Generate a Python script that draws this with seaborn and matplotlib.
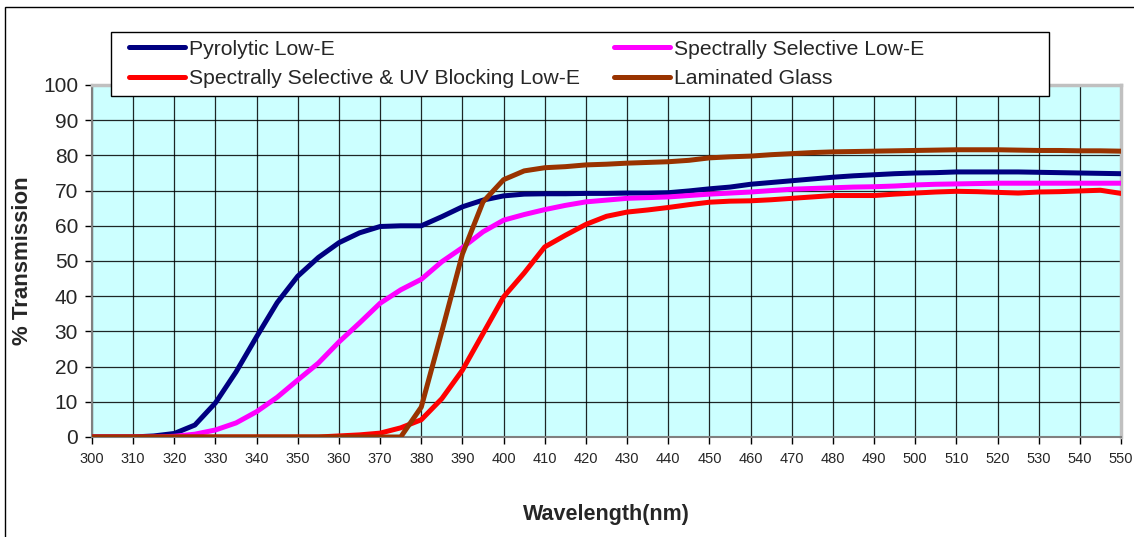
import numpy as np
import pandas as pd
import matplotlib
matplotlib.use("Agg")
import matplotlib.pyplot as plt
from matplotlib.patches import Rectangle
from matplotlib.lines import Line2D
import seaborn as sns

wavelength = list(range(300, 551, 5))

pyrolytic = [0, 0, 0, 0.3, 1.0, 3.4, 9.7, 18.5, 28.5, 38.2, 45.7, 51, 55.2, 58, 59.8, 60, 60,
             62.6, 65.4, 67.3, 68.5, 69, 69.1, 69.1, 69.2, 69.2, 69.3, 69.3, 69.4, 69.9, 70.5,
             71, 71.8, 72.3, 72.8, 73.3, 73.8, 74.2, 74.5, 74.8, 75, 75.1, 75.3, 75.3, 75.3,
             75.3, 75.2, 75.1, 75, 74.9, 74.8]
spectral = [0, 0, 0, 0, 0.2, 0.8, 2, 4, 7.2, 11.3, 16.2, 21, 27, 32.4, 38, 41.8, 44.8,
            49.8, 53.8, 58.3, 61.6, 63.2, 64.6, 65.8, 66.8, 67.3, 67.8, 68, 68.2, 68.6, 69,
            69.3, 69.6, 70, 70.4, 70.6, 70.8, 71, 71.1, 71.3, 71.6, 71.8, 71.9, 72, 72.1,
            72.1, 72.1, 72.1, 72.1, 72.1, 72.1]
spectral_uv = [0, 0, 0, 0, 0, 0, 0, 0, 0, 0, 0, 0, 0.3, 0.6, 1.1, 2.6, 4.9,
               10.9, 19, 29.4, 39.8, 46.6, 54, 57.3, 60.4, 62.7, 63.9, 64.5, 65.2, 66, 66.7,
               67, 67.1, 67.4, 67.8, 68.2, 68.6, 68.6, 68.6, 69, 69.3, 69.6, 69.8, 69.7, 69.5,
               69.3, 69.6, 69.7, 69.9, 70.1, 69.2]
laminated = [0, 0, 0, 0, 0, 0, 0, 0, 0, 0, 0, 0, 0, 0, 0, 0, 8.5,
             30, 52, 66.8, 73.1, 75.6, 76.5, 76.8, 77.3, 77.5, 77.8, 78, 78.2, 78.6, 79.3,
             79.6, 79.8, 80.2, 80.5, 80.8, 81, 81.1, 81.2, 81.3, 81.4, 81.5, 81.6, 81.6, 81.6,
             81.5, 81.4, 81.4, 81.3, 81.3, 81.2]

series_names = ["Pyrolytic Low-E", "Spectrally Selective Low-E",
                "Spectrally Selective & UV Blocking Low-E", "Laminated Glass"]
series_colors = ["#000080", "#FF00FF", "#FF0000", "#993300"]
x_ticks = list(range(300, 551, 10))
y_ticks = list(range(0, 101, 10))

frames = []
for name, vals in zip(series_names, [pyrolytic, spectral, spectral_uv, laminated]):
    frames.append(pd.DataFrame({"Wavelength": wavelength, "T": vals, "Series": name}))
df = pd.concat(frames, ignore_index=True)

sns.set_style("white")
plt.rcParams['font.family'] = ['Liberation Sans', 'DejaVu Sans']

W, H = 1134, 537
fig = plt.figure(figsize=(W / 100, H / 100), dpi=100)
ax = fig.add_axes([92 / W, 1 - 437 / H, (1121 - 92) / W, (437 - 85) / H])
ax.set_facecolor("#CCFFFF")

sns.lineplot(data=df, x="Wavelength", y="T", hue="Series", hue_order=series_names,
             palette=series_colors, linewidth=3.6, sort=False, legend=False, ax=ax,
             zorder=3)

ax.set_xlim(300, 550)
ax.set_ylim(0, 100)
ax.set_xticks(x_ticks)
ax.set_yticks(y_ticks)
ax.grid(True, color="black", linewidth=0.9, alpha=0.85, zorder=1)
ax.set_axisbelow(True)
ax.tick_params(axis="x", direction="out", length=5, width=1, color="black",
               labelsize=10.5, pad=6, bottom=True)
ax.tick_params(axis="y", direction="out", length=5, width=1, color="black",
               labelsize=15, pad=5, left=True)
for s in ["left", "bottom"]:
    ax.spines[s].set_color("#808080")
    ax.spines[s].set_linewidth(1.5)
for s in ["right", "top"]:
    ax.spines[s].set_color("#C0C0C0")
    ax.spines[s].set_linewidth(2.5)

ax.set_xlabel("Wavelength(nm)", fontsize=15.5, fontweight="bold", labelpad=27)
ax.set_ylabel("% Transmission", fontsize=16, fontweight="bold", labelpad=7)

# legend frame
fig.add_artist(Rectangle((111 / W, 1 - 96 / H), (1049 - 111) / W, 64 / H,
                         transform=fig.transFigure, facecolor="white",
                         edgecolor="black", linewidth=1.0, zorder=5))
order = [0, 2, 1, 3]
handles = [Line2D([], [], color=series_colors[i], linewidth=3.6, solid_capstyle="round")
           for i in order]
labels = [series_names[i] for i in order]
leg = fig.legend(handles, labels, ncol=2, loc="center left",
                 bbox_to_anchor=(129 / W, 1 - 64 / H), frameon=False,
                 fontsize=15.2, handlelength=2.65, handletextpad=0.2,
                 columnspacing=1.6, labelspacing=0.52, borderpad=0,
                 borderaxespad=0)
leg.set_zorder(6)

# outer chart border
fig.add_artist(Rectangle((5 / W, -0.2), 1.5, 1.2 - 7 / H, transform=fig.transFigure,
                         facecolor="none", edgecolor="black", linewidth=1.0))

fig.savefig("out.png", dpi=100)
